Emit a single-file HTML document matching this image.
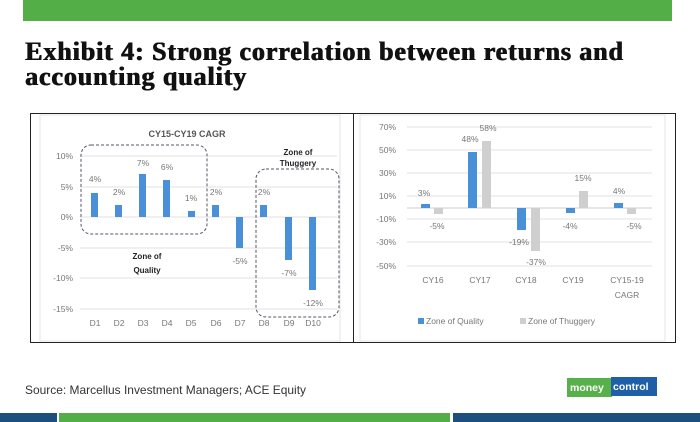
<!DOCTYPE html>
<html><head><style>
body{margin:0;width:700px;height:422px;background:#fff;position:relative;overflow:hidden;font-family:"Liberation Sans",sans-serif}
.a{position:absolute}
</style></head><body>
<div class="a" style="left:23px;top:0;width:649px;height:21px;background:#53ae47"></div>
<div class="a" style="left:25px;top:39px;font-family:'Liberation Serif',serif;font-weight:bold;font-size:26px;line-height:25px;color:#111;letter-spacing:0.9px;text-shadow:0.6px 0 0 #111,-0.3px 0 0 #111">Exhibit 4: Strong correlation between returns and<br>accounting quality</div>
<svg class="a" style="left:0;top:0" width="700" height="422" font-family="Liberation Sans, sans-serif">
<rect x="30.5" y="113.5" width="645" height="229" fill="none" stroke="#222" stroke-width="1"/>
<line x1="353.5" y1="113" x2="353.5" y2="342" stroke="#222"/>
<rect x="40" y="115" width="300" height="226" fill="none" stroke="#e6e6e6"/>
<rect x="360" y="115" width="305" height="226" fill="none" stroke="#e6e6e6"/>
<g stroke="#e0e0e0">
<line x1="80" x2="337" y1="156" y2="156"/><line x1="80" x2="337" y1="187" y2="187"/><line x1="80" x2="337" y1="217" y2="217"/>
<line x1="80" x2="337" y1="248" y2="248"/><line x1="80" x2="337" y1="278" y2="278"/><line x1="80" x2="337" y1="309" y2="309"/>
</g>
<text x="187" y="137" font-size="9" font-weight="bold" fill="#555" text-anchor="middle">CY15-CY19 CAGR</text>
<g font-size="8.5" fill="#777" text-anchor="end">
<text x="73" y="159">10%</text><text x="73" y="190">5%</text><text x="73" y="220">0%</text>
<text x="73" y="251">-5%</text><text x="73" y="281">-10%</text><text x="73" y="312">-15%</text>
</g>
<g fill="#4a90d9">
<rect x="91" y="193" width="7" height="24"/><rect x="115" y="205" width="7" height="12"/>
<rect x="139" y="174" width="7" height="43"/><rect x="163" y="180" width="7" height="37"/>
<rect x="188" y="211" width="7" height="6"/><rect x="212" y="205" width="7" height="12"/>
<rect x="236" y="217" width="7" height="31"/><rect x="260" y="205" width="7" height="12"/>
<rect x="285" y="217" width="7" height="43"/><rect x="309" y="217" width="7" height="73"/>
</g>
<g font-size="8.5" fill="#777" text-anchor="middle">
<text x="95" y="182">4%</text><text x="119" y="195">2%</text><text x="143" y="166">7%</text><text x="167" y="170">6%</text>
<text x="191" y="201">1%</text><text x="216" y="195">2%</text><text x="240" y="264">-5%</text><text x="264" y="195">2%</text>
<text x="289" y="276">-7%</text><text x="313" y="306">-12%</text>
<text x="95" y="326">D1</text><text x="119" y="326">D2</text><text x="143" y="326">D3</text><text x="167" y="326">D4</text><text x="191" y="326">D5</text>
<text x="216" y="326">D6</text><text x="240" y="326">D7</text><text x="264" y="326">D8</text><text x="289" y="326">D9</text><text x="313" y="326">D10</text>
</g>
<g fill="none" stroke="#556" stroke-dasharray="3,2" stroke-width="1">
<rect x="81" y="145" width="126" height="89" rx="10"/>
<rect x="256" y="169" width="83" height="148" rx="10"/>
</g>
<g font-size="8" font-weight="bold" fill="#222" text-anchor="middle">
<text x="298" y="155">Zone of</text><text x="298" y="166">Thuggery</text>
<text x="147" y="259">Zone of</text><text x="147" y="273">Quality</text>
</g>
<g stroke="#e0e0e0">
<line x1="407" x2="652" y1="127" y2="127"/><line x1="407" x2="652" y1="150" y2="150"/><line x1="407" x2="652" y1="173" y2="173"/>
<line x1="407" x2="652" y1="196" y2="196"/><line x1="407" x2="652" y1="219" y2="219"/><line x1="407" x2="652" y1="242" y2="242"/><line x1="407" x2="652" y1="266" y2="266"/>
</g>
<line x1="407" x2="652" y1="208" y2="208" stroke="#ccc"/>
<g font-size="8.5" fill="#777" text-anchor="end">
<text x="396" y="130">70%</text><text x="396" y="153">50%</text><text x="396" y="176">30%</text><text x="396" y="199">10%</text>
<text x="396" y="222">-10%</text><text x="396" y="245">-30%</text><text x="396" y="269">-50%</text>
</g>
<g fill="#4a90d9">
<rect x="421" y="204" width="9" height="4"/><rect x="468" y="152" width="9" height="56"/>
<rect x="517" y="208" width="9" height="22"/><rect x="566" y="208" width="9" height="5"/><rect x="614" y="203" width="9" height="5"/>
</g>
<g fill="#cfcfcf">
<rect x="434" y="208" width="9" height="6"/><rect x="482" y="141" width="9" height="67"/>
<rect x="531" y="208" width="9" height="43"/><rect x="579" y="191" width="9" height="17"/><rect x="627" y="208" width="9" height="6"/>
</g>
<g font-size="8.5" fill="#777" text-anchor="middle">
<text x="424" y="196">3%</text><text x="437" y="229">-5%</text>
<text x="470" y="142">48%</text><text x="488" y="131">58%</text>
<text x="519" y="245">-19%</text><text x="536" y="265">-37%</text>
<text x="570" y="229">-4%</text><text x="583" y="181">15%</text>
<text x="619" y="194">4%</text><text x="634" y="229">-5%</text>
<text x="433" y="283">CY16</text><text x="480" y="283">CY17</text><text x="526" y="283">CY18</text><text x="573" y="283">CY19</text>
<text x="627" y="283">CY15-19</text><text x="627" y="298">CAGR</text>
</g>
<rect x="418" y="318" width="6" height="6" fill="#4a90d9"/>
<text x="426" y="324" font-size="8.5" fill="#777">Zone of Quality</text>
<rect x="520" y="318" width="6" height="6" fill="#cfcfcf"/>
<text x="528" y="324" font-size="8.5" fill="#777">Zone of Thuggery</text>
<text x="25" y="394" font-size="12" fill="#333" textLength="281" lengthAdjust="spacingAndGlyphs">Source: Marcellus Investment Managers; ACE Equity</text>
<rect x="567" y="378" width="45" height="19" fill="#58b04a"/>
<rect x="611" y="377" width="46" height="19" fill="#1f5fa8"/>
<text x="570" y="391" font-size="10.5" font-weight="bold" fill="#fff">money</text>
<text x="613" y="390" font-size="10.5" font-weight="bold" fill="#fff">control</text>
<rect x="0" y="413" width="57" height="9" fill="#1d4f7e"/>
<rect x="59" y="413" width="391" height="9" fill="#53ae47"/>
<rect x="453" y="413" width="247" height="9" fill="#1d4f7e"/>
</svg>
</body></html>
